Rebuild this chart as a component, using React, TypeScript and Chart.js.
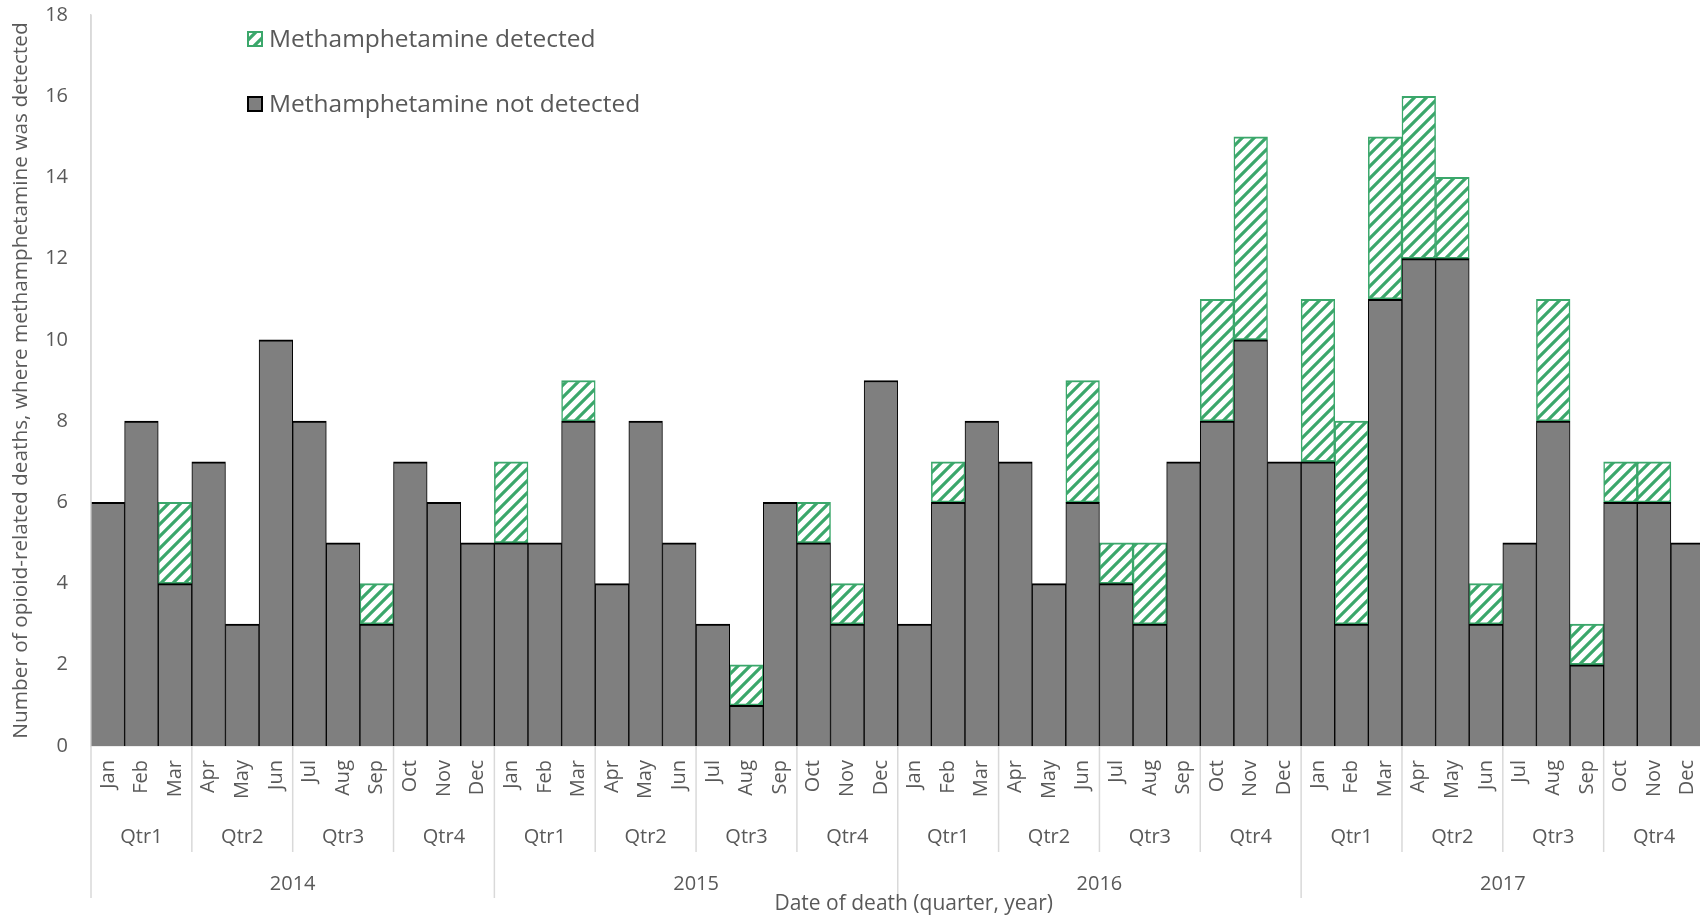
import React, { useEffect, useRef } from "react";
import { Chart, registerables } from "chart.js";

Chart.register(...registerables);

const monthLabels = ["Jan", "Feb", "Mar", "Apr", "May", "Jun", "Jul", "Aug", "Sep", "Oct", "Nov", "Dec"];
const quarterLabels = ["Qtr1", "Qtr2", "Qtr3", "Qtr4"];
const yearLabels = ["2014", "2015", "2016", "2017"];

// Methamphetamine not detected (grey, bottom of stack)
const notDetected = [
  6, 8, 4, 7, 3, 10, 8, 5, 3, 7, 6, 5,
  5, 5, 8, 4, 8, 5, 3, 1, 6, 5, 3, 9,
  3, 6, 8, 7, 4, 6, 4, 3, 7, 8, 10, 7,
  7, 3, 11, 12, 12, 3, 5, 8, 2, 6, 6, 5,
];
// Methamphetamine detected (green hatched, top of stack)
const detected = [
  0, 0, 2, 0, 0, 0, 0, 0, 1, 0, 0, 0,
  2, 0, 1, 0, 0, 0, 0, 1, 0, 1, 1, 0,
  0, 1, 0, 0, 0, 3, 1, 2, 0, 3, 5, 0,
  4, 5, 4, 4, 2, 1, 0, 3, 1, 1, 1, 0,
];

const yTicksMax = 18;
const yTicksStep = 2;

const FONT = '"Open Sans", "Noto Sans", sans-serif';
const TEXT = "#595959";
const GREEN = "#3ba76b";
const GREY = "#7f7f7f";
const LINE = "#d9d9d9";

function makeHatch(): CanvasPattern | string {
  const s = 12;
  const c = document.createElement("canvas");
  c.width = s;
  c.height = s;
  const g = c.getContext("2d");
  if (!g) return GREEN;
  g.fillStyle = "#ffffff";
  g.fillRect(0, 0, s, s);
  g.strokeStyle = GREEN;
  g.lineWidth = 3.2;
  g.beginPath();
  g.moveTo(-2, 2);
  g.lineTo(2, -2);
  g.moveTo(0, s);
  g.lineTo(s, 0);
  g.moveTo(s - 2, s + 2);
  g.lineTo(s + 2, s - 2);
  g.stroke();
  const p = g.createPattern(c, "repeat");
  return p || GREEN;
}

export default function App() {
  const ref = useRef<HTMLCanvasElement | null>(null);

  useEffect(() => {
    const canvas = ref.current;
    if (!canvas) return;
    const hatch = makeHatch();

    const labels: string[] = [];
    yearLabels.forEach(() => monthLabels.forEach((m) => labels.push(m)));

    const overlay = {
      id: "overlay",
      afterDraw(chart: any) {
        const { ctx, chartArea } = chart;
        const xs = chart.scales.x;
        const n = labels.length;
        const step = xs.getPixelForValue(1) - xs.getPixelForValue(0);
        const edge = (i: number) => xs.getPixelForValue(0) - step / 2 + i * step;
        const base = chartArea.bottom;
        ctx.save();
        // separators
        ctx.strokeStyle = LINE;
        ctx.lineWidth = 1.5;
        for (let i = 0; i <= n; i += 3) {
          const x = edge(i);
          const isYear = i % 12 === 0;
          ctx.beginPath();
          ctx.moveTo(x, isYear && i === 0 ? chartArea.top : base);
          ctx.lineTo(x, isYear ? 898 : 852);
          ctx.stroke();
        }
        // quarter labels
        ctx.fillStyle = TEXT;
        ctx.font = `20px ${FONT}`;
        ctx.textAlign = "center";
        ctx.textBaseline = "middle";
        const qPer = n / 3;
        for (let q = 0; q < qPer; q++) {
          const cx = (edge(q * 3) + edge(q * 3 + 3)) / 2;
          ctx.fillText(quarterLabels[q % 4], cx, 837);
        }
        yearLabels.forEach((y, k) => {
          const cx = (edge(k * 12) + edge(k * 12 + 12)) / 2;
          ctx.fillText(y, cx, 884);
        });
        ctx.font = `21px ${FONT}`;
        ctx.fillText("Date of death (quarter, year)", (chartArea.left + chartArea.right) / 2 + 16, 904);

        // legend
        const items = [
          { label: chart.data.datasets[1].label, fill: hatch, stroke: GREEN, y: 39 },
          { label: chart.data.datasets[0].label, fill: GREY, stroke: "#000000", y: 104 },
        ];
        ctx.font = `24.5px ${FONT}`;
        ctx.textAlign = "left";
        items.forEach((it) => {
          ctx.fillStyle = it.fill;
          ctx.fillRect(248, it.y - 7, 14, 14);
          ctx.strokeStyle = it.stroke;
          ctx.lineWidth = 2;
          ctx.strokeRect(248, it.y - 7, 14, 14);
          ctx.fillStyle = TEXT;
          ctx.fillText(it.label, 269, it.y + 1);
        });
        ctx.restore();
      },
    };

    const chart = new Chart(canvas, {
      type: "bar",
      data: {
        labels,
        datasets: [
          {
            label: "Methamphetamine not detected",
            data: notDetected,
            backgroundColor: GREY,
            borderColor: "#000000",
            borderWidth: { top: 2, left: 1, right: 1, bottom: 0 },
            borderSkipped: false,
            categoryPercentage: 1,
            barPercentage: 1,
          },
          {
            label: "Methamphetamine detected",
            data: detected.map((v) => (v === 0 ? null : v)),
            backgroundColor: hatch as any,
            borderColor: GREEN,
            borderWidth: { top: 2, left: 1.5, right: 1.5, bottom: 2 },
            borderSkipped: false,
            categoryPercentage: 1,
            barPercentage: 1,
          },
        ],
      },
      options: {
        responsive: false,
        animation: false,
        layout: { padding: { top: 15, right: 1.5, left: 0, bottom: 0 } },
        plugins: { legend: { display: false }, tooltip: { enabled: false } },
        scales: {
          x: {
            stacked: true,
            grid: { display: false, drawTicks: false },
            border: { display: true, color: LINE, width: 1.5 },
            ticks: {
              autoSkip: false,
              minRotation: 90,
              maxRotation: 90,
              padding: 14,
              color: TEXT,
              font: { family: FONT, size: 20 },
            },
            afterFit: (s: any) => {
              s.height = 173;
              s.paddingLeft = 0;
              s.paddingRight = 0;
              s.paddingTop = 0;
              s.paddingBottom = 0;
            },
          },
          y: {
            stacked: true,
            min: 0,
            max: yTicksMax,
            grid: { display: false, drawTicks: false },
            border: { display: true, color: LINE, width: 1.5 },
            ticks: {
              stepSize: yTicksStep,
              padding: 23,
              color: TEXT,
              font: { family: FONT, size: 20 },
            },
            title: {
              display: true,
              text: "Number of opioid-related deaths, where methamphetamine was detected",
              color: TEXT,
              font: { family: FONT, size: 20.8 },
              padding: { top: 9, bottom: 0 },
            },
            afterFit: (s: any) => {
              s.width = 91;
              s.paddingTop = 0;
              s.paddingBottom = 0;
              s.paddingLeft = 0;
              s.paddingRight = 0;
            },
          },
        },
      },
      plugins: [overlay],
    });
    return () => chart.destroy();
  }, []);

  return (
    <div style={{ position: "fixed", left: 0, top: 0, width: 1700, height: 919, overflow: "hidden", background: "#fff" }}>
      <canvas ref={ref} width={1706} height={919} style={{ display: "block" }} />
    </div>
  );
}
